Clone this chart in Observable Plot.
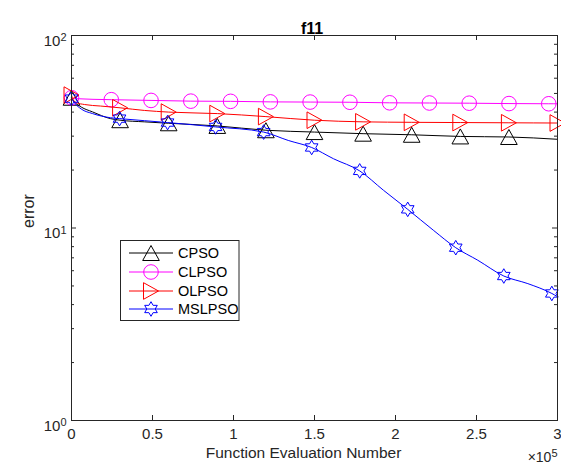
<!DOCTYPE html>
<html>
<head>
<meta charset="utf-8">
<script src="https://cdn.jsdelivr.net/npm/d3@7"></script>
<script src="https://cdn.jsdelivr.net/npm/@observablehq/plot@0.6"></script>
<style>
  html, body { margin: 0; padding: 0; background: #fff; }
  #chart { width: 561px; height: 468px; }
</style>
</head>
<body>
<div id="chart"></div>
<script>
// ---- data (function evaluations, error) ----
const seriesNames = ["CPSO", "CLPSO", "OLPSO", "MSLPSO"];
const seriesColors = ["#000000", "#ff00ff", "#ff0000", "#0000ff"];

const cpsoX = [0, 2000, 6000, 13000, 24000, 30000, 45000, 60000, 90000, 120000, 150000, 180000, 210000, 240000, 270000, 300000];
const cpsoY = [47.5, 45, 42.5, 40.1, 37.0, 36.3, 35.6, 35.0, 33.9, 32.2, 31.5, 30.9, 30.5, 29.9, 29.7, 28.9];
const cpsoMarkX = [0, 30000, 60000, 90000, 120000, 150000, 180000, 210000, 240000, 270000];

const clpsoX = [0, 2000, 24550, 49100, 73650, 98200, 122750, 147300, 171850, 196400, 220950, 245500, 270050, 294600, 300000];
const clpsoY = [47.5, 47.0, 46.4, 46.0, 45.6, 45.5, 45.2, 45.1, 45.0, 44.7, 44.6, 44.5, 44.3, 44.2, 44.2];
const clpsoMarkX = [0, 24550, 49100, 73650, 98200, 122750, 147300, 171850, 196400, 220950, 245500, 270050, 294600];

const olpsoX = [0, 1000, 3000, 8000, 18000, 30000, 45000, 60000, 90000, 120000, 150000, 180000, 210000, 240000, 270000, 300000];
const olpsoY = [49, 46.5, 44.8, 43.8, 43.0, 42.1, 40.8, 40.0, 39.3, 37.9, 36.3, 35.6, 35.4, 35.3, 35.2, 35.1];
const olpsoMarkX = [0, 30000, 60000, 90000, 120000, 150000, 180000, 210000, 240000, 270000, 300000];

const mslpsoX = [0, 2000, 6000, 13000, 24000, 29650, 45000, 59300, 88950, 118600, 133800, 148250, 161700, 177900, 192600, 207550, 223600, 237200, 250800, 266850, 281700, 296500, 300000];
const mslpsoY = [47, 44.5, 41.5, 39.3, 37.4, 37.0, 36.1, 35.3, 33.5, 31.5, 28.5, 26.2, 22.9, 19.8, 15.7, 12.5, 9.7, 7.9, 6.8, 5.63, 5.14, 4.57, 4.4];
const mslpsoMarkX = [0, 29650, 59300, 88950, 118600, 148250, 177900, 207550, 237200, 266850, 296500];

const xTicks = [0, 50000, 100000, 150000, 200000, 250000, 300000];
const xTickLabels = ["0", "0.5", "1", "1.5", "2", "2.5", "3"];
const yMajor = [1, 10, 100];
const yMajorLabels = ["10^0", "10^1", "10^2"];
const yMinor = [2, 3, 4, 5, 6, 7, 8, 9, 20, 30, 40, 50, 60, 70, 80, 90];

const titleText = "f11";
const xLabel = "Function Evaluation Number";
const yLabel = "error";
const xExponent = "×10^5";

// ---- symbols ----
const triUp = {draw(ctx, size) { const r = Math.sqrt(size / Math.PI);
  ctx.moveTo(0, -r); ctx.lineTo(r * 1.11, r); ctx.lineTo(-r * 1.11, r); ctx.closePath(); }};
const triRight = {draw(ctx, size) { const r = Math.sqrt(size / Math.PI);
  ctx.moveTo(-r, -r * 1.11); ctx.lineTo(r, 0); ctx.lineTo(-r, r * 1.11); ctx.closePath(); }};
const circ = {draw(ctx, size) { const r = Math.sqrt(size / Math.PI);
  ctx.moveTo(r, 0); ctx.arc(0, 0, r, 0, 2 * Math.PI); ctx.closePath(); }};
const hexagram = {draw(ctx, size) { const R = Math.sqrt(size / Math.PI), ri = R / Math.sqrt(3);
  for (let k = 0; k < 12; k++) {
    const a = (-90 + k * 30) * Math.PI / 180, rr = k % 2 === 0 ? R : ri;
    const px = rr * Math.cos(a), py = rr * Math.sin(a);
    if (k === 0) ctx.moveTo(px, py); else ctx.lineTo(px, py);
  }
  ctx.closePath(); }};
const seriesSymbols = [triUp, circ, triRight, hexagram];
const seriesR = [7.5, 7.3, 7.5, 7.3];

const allX = [cpsoX, clpsoX, olpsoX, mslpsoX];
const allY = [cpsoY, clpsoY, olpsoY, mslpsoY];
const allM = [cpsoMarkX, clpsoMarkX, olpsoMarkX, mslpsoMarkX];

const ink = "#262626";
const font = "'Liberation Sans', Arial, Helvetica, sans-serif";
const W = 561, H = 468, mL = 71, mR = 4, mT = 35, mB = 48;
const fw = W - mL - mR, fh = H - mT - mB;

const seriesMarks = [];
seriesNames.forEach((name, i) => {
  const pts = allX[i].map((x, j) => ({x, y: allY[i][j]}));
  const marks = pts.filter(p => allM[i].includes(p.x));
  seriesMarks.push(Plot.line(pts, {x: "x", y: "y", stroke: seriesColors[i], strokeWidth: 1, curve: "monotone-x"}));
  seriesMarks.push(Plot.dot(marks, {x: "x", y: "y", r: seriesR[i], symbol: seriesSymbols[i], stroke: seriesColors[i], fill: "none", strokeWidth: 1}));
});

const svg = Plot.plot({
  width: W, height: H,
  marginLeft: mL, marginRight: mR, marginTop: mT, marginBottom: mB,
  x: {domain: [0, 300000], axis: null},
  y: {type: "log", domain: [1, 100], axis: null},
  style: {fontFamily: font, background: "#fff", overflow: "visible"},
  marks: [
    ...seriesMarks,
    Plot.frame({stroke: ink, strokeWidth: 1}),
    Plot.tickX(xTicks, {x: d => d, insetTop: fh - 5, stroke: ink}),
    Plot.tickX(xTicks, {x: d => d, insetBottom: fh - 5, stroke: ink}),
    Plot.tickY(yMajor, {y: d => d, insetRight: fw - 5, stroke: ink}),
    Plot.tickY(yMajor, {y: d => d, insetLeft: fw - 5, stroke: ink}),
    Plot.tickY(yMinor, {y: d => d, insetRight: fw - 3, stroke: ink}),
    Plot.tickY(yMinor, {y: d => d, insetLeft: fw - 3, stroke: ink}),
    Plot.text(xTicks, {x: d => d, frameAnchor: "bottom", dy: 18, text: (d, i) => xTickLabels[i], fontSize: 15, fill: ink}),
    Plot.text(yMajor, {y: d => d, frameAnchor: "left", dx: -5, dy: 5.5, textAnchor: "end", text: (d, i) => yMajorLabels[i], fontSize: 15, fill: ink}),
    Plot.text([titleText], {frameAnchor: "top", dx: -2.5, dy: -13, text: d => d, fontSize: 16, fontWeight: "bold", fill: "#000"}),
    Plot.text([xLabel], {frameAnchor: "bottom", dx: -11, dy: 37, text: d => d, fontSize: 15.5, fill: ink}),
    Plot.text([yLabel], {frameAnchor: "left", dx: -43, rotate: -90, text: d => d, fontSize: 16, fill: ink}),
    Plot.text([xExponent], {frameAnchor: "bottom-right", dx: 0, dy: 41, textAnchor: "end", text: d => d, fontSize: 14, fill: ink})
  ]
});

// superscripts
d3.select(svg).selectAll("text").each(function() {
  const t = this.textContent;
  const m = /^(.*10)\^(\d)$/.exec(t);
  if (m) {
    const sel = d3.select(this);
    const tspans = sel.selectAll("tspan");
    const target = tspans.empty() ? sel : d3.select(tspans.nodes()[0]);
    target.text(m[1]);
    target.append("tspan").attr("dy", "-0.4em").attr("font-size", "11px").text(m[2]);
  }
});

// legend
const lg = d3.select(svg).append("g").attr("font-family", font).attr("text-anchor", "start");
lg.append("rect").attr("x", 120.5).attr("y", 240.5).attr("width", 118.5).attr("height", 80)
  .attr("fill", "#fff").attr("stroke", ink).attr("stroke-width", 1);
const rowY = [253, 272, 291, 309];
seriesNames.forEach((name, i) => {
  const y = rowY[i];
  lg.append("line").attr("x1", 129).attr("x2", 173).attr("y1", y).attr("y2", y)
    .attr("stroke", seriesColors[i]).attr("stroke-width", 1);
  lg.append("path").attr("transform", `translate(151,${y})`)
    .attr("d", d3.symbol(seriesSymbols[i], seriesR[i] * seriesR[i] * Math.PI)())
    .attr("fill", "none").attr("stroke", seriesColors[i]).attr("stroke-width", 1);
  lg.append("text").attr("x", 178).attr("y", y).attr("dy", "0.35em").attr("font-size", "14.5px")
    .attr("text-anchor", "start").attr("fill", "#000").text(name);
});

document.getElementById("chart").appendChild(svg);
</script>
</body>
</html>
